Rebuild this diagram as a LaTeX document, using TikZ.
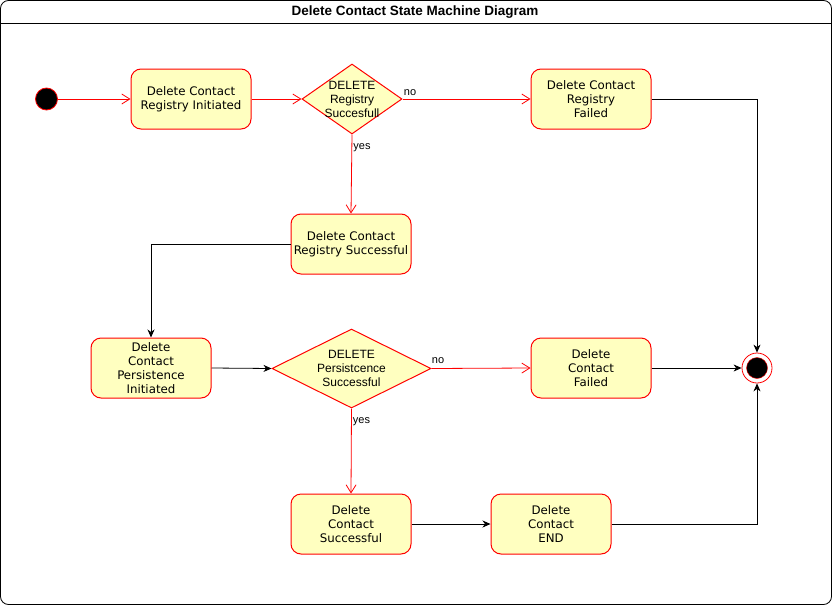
\documentclass[tikz,border=0pt]{standalone}
\usepackage{fontspec}
\setmainfont{DejaVu Sans}
\newfontfamily\arialf{Liberation Sans}
\usetikzlibrary{shapes.geometric,arrows.meta}
\definecolor{statefill}{HTML}{FFFFC0}
\definecolor{statered}{HTML}{FF0000}
\tikzset{
  stnode/.style={draw=statered, fill=statefill, rounded corners=10pt, minimum width=120pt, minimum height=60pt, align=center, font=\fontsize{11.8}{14}\selectfont, inner sep=0pt, line width=1pt},
  decnode/.style={diamond, draw=statered, fill=statefill, inner sep=0pt, line width=1pt},
  dectext/.style={align=center, font=\arialf\fontsize{12}{14}\selectfont, inner sep=0pt},
  lbl/.style={font=\arialf\fontsize{11}{12}\selectfont, inner sep=0pt},
  redarr/.style={draw=statered, line width=0.8pt, -{Straight Barb[length=8pt,width=10pt]}},
  blkarr/.style={draw=black, line width=0.8pt, -{Stealth[length=8pt,width=7pt,inset=2.5pt]}},
}
\begin{document}
\begin{tikzpicture}[x=1pt,y=-1pt]
\useasboundingbox (0,0) rectangle (832,605);
% frame
\draw[line width=0.8pt, rounded corners=8pt, fill=white] (0.5,0.5) rectangle (831.5,604.5);
\draw[line width=0.8pt] (0.5,23) -- (831.5,23);
\node[font=\arialf\bfseries\fontsize{13.5}{15}\selectfont, inner sep=0pt] (title) at (415,12.5) {Delete Contact State Machine Diagram};
% nodes
\node[circle, draw=statered, fill=black, minimum size=22pt, inner sep=0pt, line width=0.8pt] (start) at (46.5,99) {};
\node[stnode] (s1) at (191,99) {Delete Contact\\Registry Initiated};
\node[decnode, minimum width=100pt, minimum height=70pt] (d1) at (352,99) {};
\node[dectext] (d1t) at (352,99.5) {DELETE\\Registry\\Succesfull};
\node[stnode] (s2) at (591,99) {Delete Contact\\Registry\\Failed};
\node[stnode] (s3) at (351,244) {Delete Contact\\Registry Successful};
\node[stnode] (s4) at (151,368) {Delete\\Contact\\Persistence\\Initiated};
\node[decnode, minimum width=159pt, minimum height=79pt] (d2) at (351.5,368.5) {};
\node[dectext] (d2t) at (351.5,368.5) {DELETE\\Persistcence\\Successful};
\node[stnode] (s5) at (591,368) {Delete\\Contact\\Failed};
\node[circle, draw=statered, fill=white, minimum size=30pt, inner sep=0pt, line width=0.8pt] (end) at (757,368) {};
\node[circle, draw=statered, fill=black, minimum size=21pt, inner sep=0pt, line width=0.4pt] (endin) at (757,368) {};
\node[stnode] (s6) at (351,524) {Delete\\Contact\\Successful};
\node[stnode] (s7) at (551,524) {Delete\\Contact\\END};
% connectors
\draw[redarr] (start) -- (s1);
\draw[redarr] (s1) -- (d1);
\draw[redarr] (d1.east) -- (s2.west) node[lbl, pos=0, anchor=south west, xshift=1pt, yshift=3pt] (no1) {no};
\draw[redarr] (d1.south) -- (s3.north) node[lbl, pos=0, anchor=north west, xshift=1pt, yshift=-9pt] (yes1) {yes};
\draw[blkarr] (s2.east) -| (end.north);
\draw[blkarr] (s3.west) -| (s4.north);
\draw[blkarr] (s4.east) -- (d2.west);
\draw[redarr] (d2.east) -- (s5.west) node[lbl, pos=0, anchor=south west, xshift=0pt, yshift=4pt] (no2) {no};
\draw[redarr] (d2.south) -- (s6.north) node[lbl, pos=0, anchor=north west, xshift=1pt, yshift=-9pt] (yes2) {yes};
\draw[blkarr] (s5.east) -- (end.west);
\draw[blkarr] (s6.east) -- (s7.west);
\draw[blkarr] (s7.east) -| (end.south);
\end{tikzpicture}
\end{document}
